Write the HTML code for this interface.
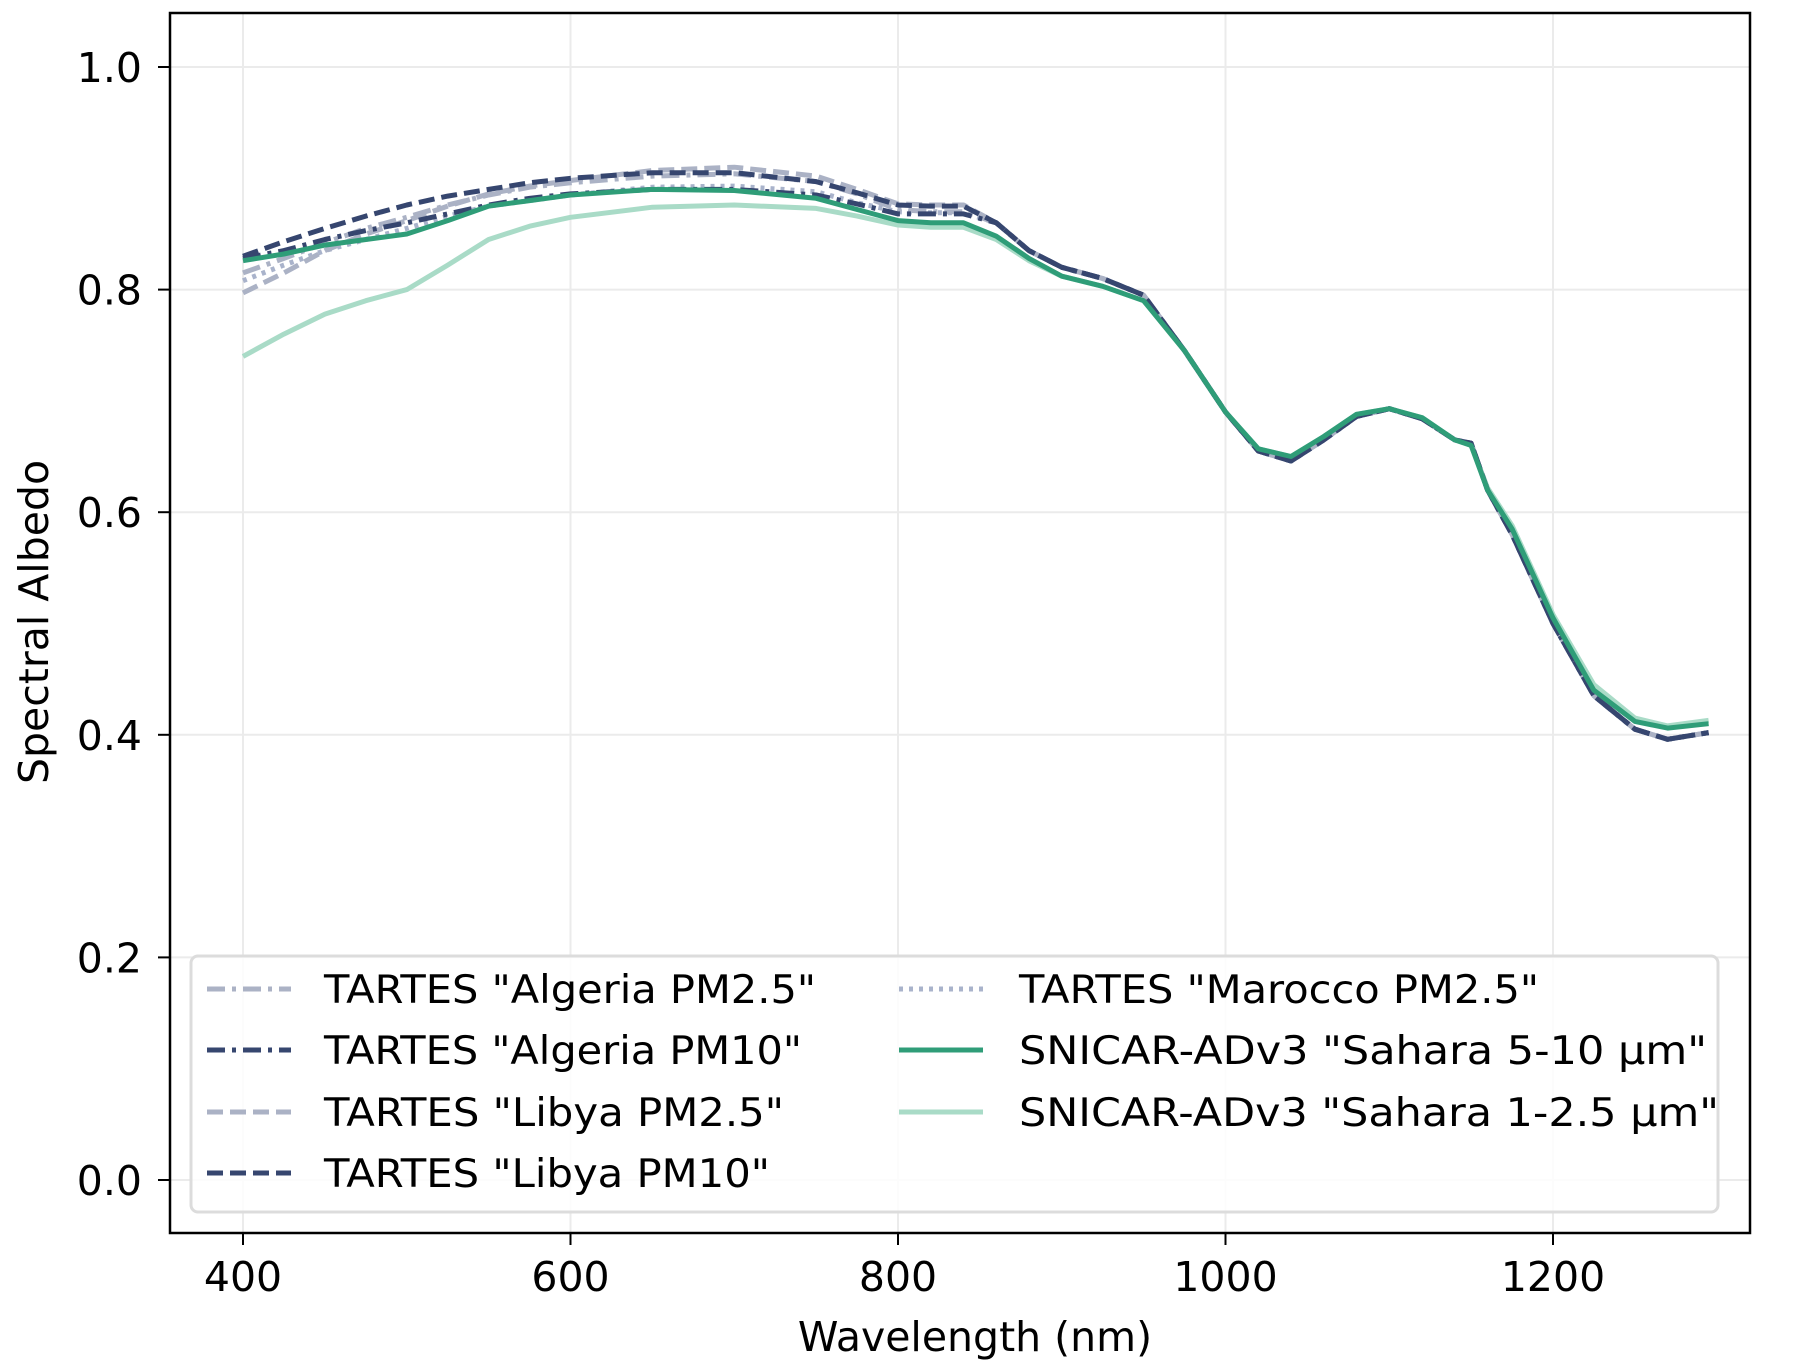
<!DOCTYPE html>
<html><head><meta charset="utf-8"><style>
html,body{margin:0;padding:0;background:#fff}
svg{display:block;font-family:"DejaVu Sans","Liberation Sans",sans-serif}
</style></head><body>
<svg id="chart" width="1802" height="1372" viewBox="0 0 1802 1372">
<rect x="0" y="0" width="1802" height="1372" fill="#fff"/>
<g id="grid"></g>
<g id="series"></g>
<rect x="170" y="13" width="1580" height="1220" fill="none" stroke="#000" stroke-width="2.5"/>
<g id="ticks"></g>
<text x="975" y="1351" font-size="41" text-anchor="middle">Wavelength (nm)</text>
<text x="0" y="0" font-size="41" text-anchor="middle" transform="translate(48,622) rotate(-90)">Spectral Albedo</text>
<g id="legend"></g>
</svg>
<script>
const wavelengths=[400,425,450,475,500,525,550,575,600,650,700,750,775,800,820,840,860,880,900,925,950,975,1000,1020,1040,1060,1080,1100,1120,1140,1150,1160,1175,1200,1225,1250,1270,1295];
const tartesTail=[0.86,0.835,0.82,0.81,0.795,0.745,0.69,0.655,0.646,0.665,0.686,0.693,0.684,0.665,0.662,0.62,0.58,0.5,0.435,0.405,0.396,0.402];
const algeriaPM25=[0.815,0.828,0.842,0.855,0.865,0.876,0.885,0.892,0.896,0.902,0.904,0.897,0.886,0.872,0.870,0.870].concat(tartesTail);
const algeriaPM10=[0.828,0.835,0.845,0.853,0.860,0.868,0.876,0.882,0.886,0.890,0.890,0.885,0.877,0.868,0.868,0.868].concat(tartesTail);
const libyaPM25=[0.797,0.815,0.835,0.850,0.862,0.875,0.886,0.893,0.898,0.907,0.910,0.902,0.890,0.877,0.876,0.876].concat(tartesTail);
const libyaPM10=[0.830,0.843,0.855,0.866,0.876,0.884,0.890,0.896,0.900,0.905,0.905,0.897,0.887,0.876,0.875,0.875].concat(tartesTail);
const maroccoPM25=[0.808,0.822,0.835,0.845,0.855,0.866,0.875,0.880,0.885,0.892,0.893,0.888,0.878,0.870,0.869,0.869].concat(tartesTail);
const sahara510=[0.826,0.832,0.840,0.845,0.850,0.862,0.875,0.880,0.885,0.890,0.889,0.882,0.872,0.862,0.860,0.860,0.848,0.828,0.812,0.803,0.790,0.745,0.690,0.657,0.650,0.668,0.688,0.693,0.685,0.665,0.660,0.620,0.585,0.505,0.440,0.412,0.406,0.410];
const sahara125=[0.740,0.760,0.778,0.790,0.800,0.822,0.845,0.857,0.865,0.874,0.876,0.873,0.866,0.858,0.856,0.856,0.845,0.826,0.812,0.803,0.790,0.745,0.690,0.657,0.650,0.668,0.688,0.693,0.685,0.665,0.660,0.622,0.588,0.508,0.445,0.415,0.408,0.413];
const xTicks=[400,600,800,1000,1200];
const yTicks=[0.0,0.2,0.4,0.6,0.8,1.0];
const seriesLabels=['TARTES "Algeria PM2.5"','TARTES "Algeria PM10"','TARTES "Libya PM2.5"','TARTES "Libya PM10"','TARTES "Marocco PM2.5"','SNICAR-ADv3 "Sahara 5-10 μm"','SNICAR-ADv3 "Sahara 1-2.5 μm"'];

const NS='http://www.w3.org/2000/svg';
const xS=v=>243+(v-400)*1.6375;
const yS=v=>1180-v*1113;
function mk(tag,attrs,parent){const e=document.createElementNS(NS,tag);for(const k in attrs)e.setAttribute(k,attrs[k]);parent.appendChild(e);return e;}
const grid=document.getElementById('grid'),ticks=document.getElementById('ticks'),ser=document.getElementById('series'),leg=document.getElementById('legend');
xTicks.forEach(t=>{
  const g=mk('line',{x1:xS(t),x2:xS(t),y1:13,y2:1233,stroke:'#ebebeb','stroke-width':2},grid);
  
  
  const l=mk('line',{x1:xS(t),x2:xS(t),y1:1233,y2:1245,stroke:'#000','stroke-width':2},ticks);
  
  
  const tx=mk('text',{x:xS(t),y:1291,'font-size':41,'text-anchor':'middle'},ticks);
  tx.textContent=String(t);
  
  
});
yTicks.forEach(t=>{
  const g=mk('line',{x1:170,x2:1750,y1:yS(t),y2:yS(t),stroke:'#ebebeb','stroke-width':2},grid);
  
  
  const l=mk('line',{x1:158,x2:170,y1:yS(t),y2:yS(t),stroke:'#000','stroke-width':2},ticks);
  
  
  const tx=mk('text',{x:142,y:yS(t)+15,'font-size':41,'text-anchor':'end'},ticks);
  tx.textContent=t.toFixed(1);
  
  
});
const styles=[
  {c:'#abb2c5',d:'18 7 4 7'},
  {c:'#36466f',d:'18 7 4 7'},
  {c:'#abb2c5',d:'16 7'},
  {c:'#36466f',d:'16 7'},
  {c:'#a9b3cb',d:'4 6'},
  {c:'#2f9d78',d:''},
  {c:'#a9dbc7',d:''}
];
const allSeries=[algeriaPM25,algeriaPM10,libyaPM25,libyaPM10,maroccoPM25,sahara510,sahara125];
const names=['line-algeria-pm25','line-algeria-pm10','line-libya-pm25','line-libya-pm10','line-marocco-pm25','line-sahara-5-10','line-sahara-1-2-5'];
const order=[6,4,2,0,3,1,5];
order.forEach(i=>{
  const d=allSeries[i].map((v,j)=>(j?'L':'M')+xS(wavelengths[j]).toFixed(1)+' '+yS(v).toFixed(1)).join(' ');
  const p=mk('path',{d:d,fill:'none',stroke:styles[i].c,'stroke-width':5,'stroke-linejoin':'round'},ser);
  if(styles[i].d)p.setAttribute('stroke-dasharray',styles[i].d);
  
  
});
const box=mk('rect',{x:191,y:956,width:1527,height:256,rx:7,fill:'rgba(255,255,255,0.85)',stroke:'#dcdcdc','stroke-width':3},leg);


const rows=[989,1050,1112,1173];
const lens=[492,478,460,446,520,688,700];
seriesLabels.forEach((lab,i)=>{
  const col=i<4?0:1,row=i<4?i:i-4;
  const hx=col?899:207,tx=col?1019:324,y=rows[row];
  const g=mk('g',{},leg);
  
  
  const l=mk('line',{x1:hx,x2:hx+84,y1:y,y2:y,stroke:styles[i].c,'stroke-width':5},g);
  if(styles[i].d)l.setAttribute('stroke-dasharray',styles[i].d);
  
  
  const t=mk('text',{x:tx,y:y+14,'font-size':39,textLength:lens[i],lengthAdjust:'spacingAndGlyphs'},g);
  t.textContent=lab;
  
  
});
</script>
</body></html>
